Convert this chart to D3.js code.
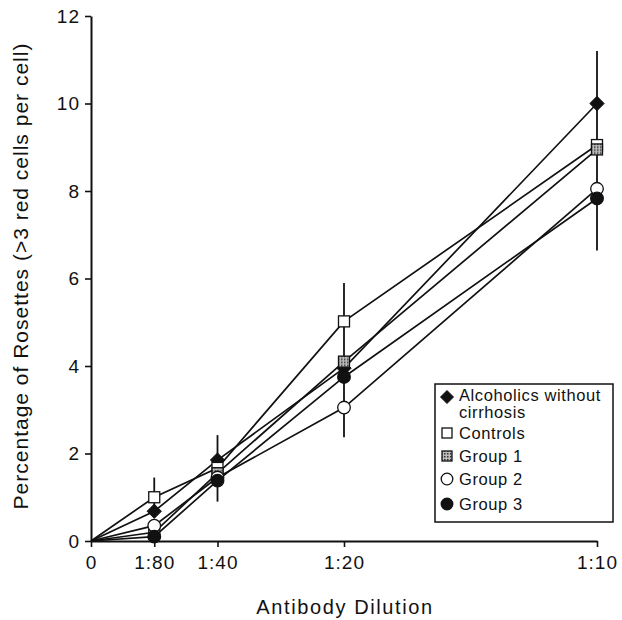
<!DOCTYPE html>
<html>
<head>
<meta charset="utf-8">
<script src="https://cdn.jsdelivr.net/npm/d3@7"></script>
<style>
body { margin:0; background:#fff; }
svg text { font-family: "Liberation Sans", Arial, Helvetica, sans-serif; fill:#111; }
</style>
</head>
<body>
<div id="chart-area"></div>
<script>
// dilutions as fraction of antibody (0, 1/80, 1/40, 1/20, 1/10)
const dilutions = [0, 1/80, 1/40, 1/20, 1/10]
const dilutionLabels = ['0', '1:80', '1:40', '1:20', '1:10']

const alcoholics = [0, 0.68, 1.85, 3.95, 10.0]
const controls   = [0, 1.0, 1.67, 5.02, 9.05]
const group1     = [0, 0.2, 1.55, 4.1, 8.95]
const group2     = [0, 0.35, 1.45, 3.05, 8.05]
const group3     = [0, 0.1, 1.38, 3.75, 7.83]

// vertical error lines at each dilution [low, high]
const errLow  = [null, 0.62, 0.9, 2.37, 6.64]
const errHigh = [null, 1.45, 2.42, 5.9, 11.2]

const yTicks = [0, 2, 4, 6, 8, 10, 12]

const MARGIN = { LEFT:91, RIGHT:25, TOP:16, BOTTOM:79 }
const WIDTH = 622 - MARGIN.LEFT - MARGIN.RIGHT
const HEIGHT = 620 - MARGIN.TOP - MARGIN.BOTTOM

const svg = d3.select('#chart-area')
.append('svg')
.attr('width', 622)
.attr('height', 620)

const defs = svg.append('defs')
const pat = defs.append('pattern')
.attr('id','hatch')
.attr('patternUnits','userSpaceOnUse')
.attr('width',3)
.attr('height',3)
pat.append('rect').attr('width',3).attr('height',3).attr('fill','#bbb')
pat.append('rect').attr('width',1.5).attr('height',1.5).attr('fill','#333')

const g = svg.append('g')
.attr('transform', `translate(${MARGIN.LEFT},${MARGIN.TOP})`)

const x = d3.scaleLinear()
.domain([0, 0.1])
.range([0, WIDTH])

const y = d3.scaleLinear()
.domain([0, 12])
.range([HEIGHT, 0])

const xAxisCall = d3.axisBottom(x)
.tickValues(dilutions)
.tickFormat((d, i) => dilutionLabels[i])
.tickSizeInner(6)
.tickSizeOuter(0)
.tickPadding(9)

const yAxisCall = d3.axisLeft(y)
.tickValues(yTicks)
.tickSizeInner(6)
.tickSizeOuter(0)
.tickPadding(5)

const xAxis = g.append('g')
.attr('transform', `translate(0,${HEIGHT})`)
.call(xAxisCall)

const yAxis = g.append('g')
.call(yAxisCall)

;[xAxis, yAxis].forEach(ax => {
	ax.select('.domain').attr('stroke','#111').attr('stroke-width',2)
	ax.selectAll('.tick line').attr('stroke','#111').attr('stroke-width',1.6)
	ax.selectAll('.tick text').attr('font-size','19px').attr('fill','#111')
		.attr('letter-spacing','1px')
		.style('font-family','"Liberation Sans", Arial, sans-serif')
})

// axis titles
g.append('text')
.attr('x', WIDTH/2 + 1)
.attr('y', HEIGHT + 73)
.attr('text-anchor','middle')
.attr('font-size','20px')
.attr('letter-spacing','1.6px')
.text('Antibody Dilution')

g.append('text')
.attr('transform','rotate(-90)')
.attr('x', -260)
.attr('y', -63)
.attr('text-anchor','middle')
.attr('font-size','21px')
.attr('letter-spacing','1px')
.text('Percentage of Rosettes (>3 red cells per cell)')

// error lines
const errData = dilutions.map((d, i) => ({ d, lo: errLow[i], hi: errHigh[i] }))
.filter(e => e.lo !== null)

g.selectAll('.err').data(errData).enter().append('line')
.attr('class','err')
.attr('x1', e => x(e.d))
.attr('x2', e => x(e.d))
.attr('y1', e => y(e.lo))
.attr('y2', e => y(e.hi))
.attr('stroke','#111')
.attr('stroke-width',1.8)

const series = [
	{ name:'Alcoholics without cirrhosis', values: alcoholics, shape:'diamond', fill:'#111' },
	{ name:'Controls', values: controls, shape:'square', fill:'#fff' },
	{ name:'Group 1', values: group1, shape:'square', fill:'url(#hatch)' },
	{ name:'Group 2', values: group2, shape:'circle', fill:'#fff' },
	{ name:'Group 3', values: group3, shape:'circle', fill:'#111' }
]

const line = d3.line()
.x((v, i) => x(dilutions[i]))
.y(v => y(v))

g.selectAll('.series-line').data(series).enter().append('path')
.attr('class','series-line')
.attr('d', s => line(s.values))
.attr('fill','none')
.attr('stroke','#111')
.attr('stroke-width',1.7)

function drawMarker(sel, s, size) {
	if (s.shape === 'diamond') {
		const h = size * 0.65
		sel.append('path')
		.attr('d', `M0,${-h}L${h},0L0,${h}L${-h},0Z`)
		.attr('fill', s.fill)
		.attr('stroke','#111')
		.attr('stroke-width',1)
	} else if (s.shape === 'square') {
		sel.append('rect')
		.attr('x', -size/2)
		.attr('y', -size/2)
		.attr('width', size)
		.attr('height', size)
		.attr('fill', s.fill)
		.attr('stroke','#111')
		.attr('stroke-width',1.3)
	} else {
		sel.append('circle')
		.attr('r', size/2 + 0.8)
		.attr('fill', s.fill)
		.attr('stroke','#111')
		.attr('stroke-width',1.3)
	}
}

// markers drawn in order so that later groups sit on top
series.forEach(s => {
	const pts = s.values.map((v, i) => ({ d: dilutions[i], v })).filter(p => p.d > 0)
	pts.forEach(p => {
		const m = g.append('g').attr('transform', `translate(${x(p.d)},${y(p.v)})`)
		drawMarker(m, s, 11)
	})
})

// legend
const legend = svg.append('g')
.attr('transform','translate(435,384)')

legend.append('rect')
.attr('width',178)
.attr('height',138)
.attr('fill','#fff')
.attr('stroke','#111')
.attr('stroke-width',1.5)

const legendRows = [13, 49, 72, 95, 120]
series.forEach((s, i) => {
	const row = legend.append('g')
	.attr('transform', `translate(12,${legendRows[i]})`)
	drawMarker(row, s, 10)
	const txt = (ty, str) => row.append('text').attr('x',12).attr('y',ty)
		.attr('font-size','16.5px').attr('letter-spacing','0.6px').text(str)
	if (i === 0) {
		txt(4, 'Alcoholics without')
		txt(21, 'cirrhosis')
	} else {
		txt(6, s.name)
	}
})
</script>
</body>
</html>
